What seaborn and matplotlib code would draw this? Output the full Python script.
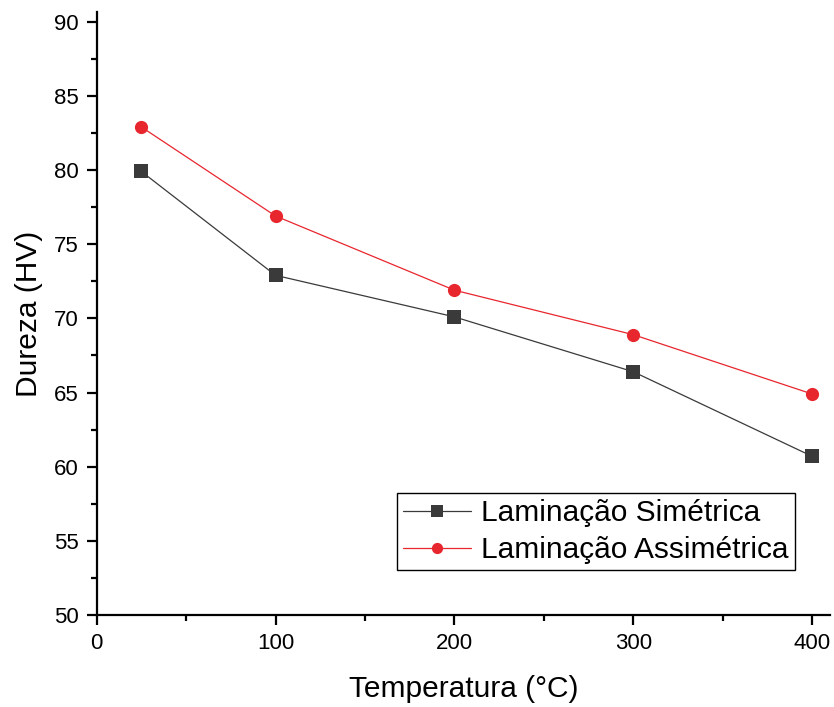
import numpy as np
import pandas as pd
import matplotlib.pyplot as plt
import seaborn as sns
from matplotlib.ticker import MultipleLocator

# --- Dados ---
temperatura = [25, 100, 200, 300, 400]
dureza_simetrica = [79.9, 72.9, 70.1, 66.4, 60.7]
dureza_assimetrica = [82.9, 76.9, 71.9, 68.9, 64.9]
series = ['Laminação Simétrica', 'Laminação Assimétrica']

df = pd.concat([
    pd.DataFrame({'Temperatura': temperatura, 'Dureza': dureza_simetrica, 'Serie': series[0]}),
    pd.DataFrame({'Temperatura': temperatura, 'Dureza': dureza_assimetrica, 'Serie': series[1]}),
])

sns.set_style('ticks')
plt.rcParams['font.family'] = ['Liberation Sans', 'DejaVu Sans']
plt.rcParams['text.color'] = 'black'
plt.rcParams['axes.labelcolor'] = 'black'

fig = plt.figure(figsize=(8.34, 7.07), dpi=100)
ax = fig.add_axes([0.1159, 0.1301, 0.8793, 0.8529])

sns.lineplot(
    data=df, x='Temperatura', y='Dureza', hue='Serie', style='Serie',
    palette={series[0]: '#3a3a3a', series[1]: '#e8262e'},
    markers={series[0]: 's', series[1]: 'o'},
    dashes=False, linewidth=0.9, markersize=9.5, markeredgewidth=0,
    ax=ax,
)

ax.set_xlim(0, 410)
ax.set_ylim(50, 90.65)
ax.xaxis.set_major_locator(MultipleLocator(100))
ax.xaxis.set_minor_locator(MultipleLocator(50))
ax.yaxis.set_major_locator(MultipleLocator(5))
ax.yaxis.set_minor_locator(MultipleLocator(2.5))

for s in ['top', 'right']:
    ax.spines[s].set_visible(False)
for s in ['left', 'bottom']:
    ax.spines[s].set_linewidth(1.6)
    ax.spines[s].set_color('black')

ax.tick_params(which='major', direction='out', length=7.5, width=1.6, labelsize=16, pad=5.5,
               colors='black', labelcolor='black')
ax.tick_params(which='minor', direction='out', length=4.5, width=1.6, colors='black')

ax.set_xlabel('Temperatura (°C)', fontsize=21.5, labelpad=15)
ax.set_ylabel('Dureza (HV)', fontsize=21.5, labelpad=8)

leg = ax.legend(
    loc='upper right', bbox_to_anchor=(0.952, 0.202), borderaxespad=0,
    fontsize=21.5, frameon=True, fancybox=False, framealpha=1,
    edgecolor='black', borderpad=0.2, handlelength=2.3,
    handletextpad=0.33, labelspacing=0.3, markerscale=0.85,
)
leg.get_frame().set_linewidth(1.0)
for t in leg.get_texts():
    t.set_color('black')

plt.savefig('out.png', dpi=100)
